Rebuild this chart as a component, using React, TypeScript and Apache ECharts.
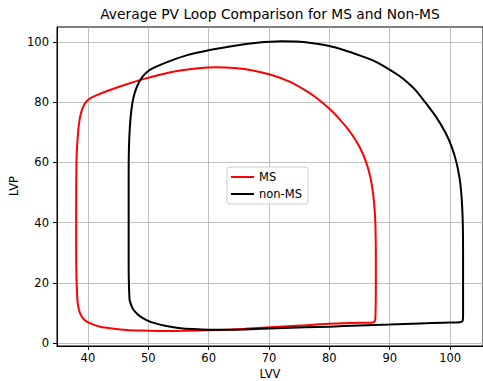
import React, { useEffect, useRef } from "react";
import * as echarts from "echarts";

const title = "Average PV Loop Comparison for MS and Non-MS";
const xTicks = [40, 50, 60, 70, 80, 90, 100];
const yTicks = [0, 20, 40, 60, 80, 100];
const seriesNames = ["MS", "non-MS"];

// MS loop: [LVV, LVP]
const msLoop: number[][] = [
  [38.4, 12.1], [38.7, 9.9], [39.2, 8.3], [39.8, 7.2], [41.0, 6.1], [42.0, 5.5],
  [44.0, 4.9], [46.4, 4.4], [49.1, 4.2], [52.0, 4.1], [56.0, 4.15], [60.2, 4.3],
  [66.0, 4.8], [71.7, 5.5], [76.0, 6.0], [80.0, 6.5], [84.0, 6.75], [87.2, 6.9],
  [87.55, 7.4], [87.65, 10], [87.7, 20], [87.7, 30], [87.66, 36], [87.62, 40],
  [87.47, 45], [87.22, 50], [86.8, 55], [86.1, 60], [85.03, 65], [83.48, 70],
  [81.38, 75], [79.88, 78.0], [78.1, 81.03], [76.3, 83.55], [73.3, 86.85], [70.3, 89.05],
  [67.3, 90.5], [64.3, 91.28], [61.3, 91.58], [58.3, 91.24], [55.3, 90.46], [52.3, 89.26],
  [49.3, 87.7], [46.3, 85.84], [43.3, 83.74], [41.5, 82.3], [40.5, 81.4], [39.8, 80.3],
  [39.25, 78.6], [38.8, 76.0], [38.5, 72.5], [38.3, 68], [38.15, 63], [38.08, 56],
  [38.05, 45], [38.05, 30], [38.1, 22], [38.2, 17], [38.25, 14.5], [38.4, 12.1]
];

// non-MS loop: [LVV, LVP]
const nonMsLoop: number[][] = [
  [46.9, 14.3], [47.3, 12.0], [47.8, 10.5], [48.6, 9.0], [49.7, 7.7], [51.2, 6.6],
  [53.0, 5.7], [55.0, 5.1], [57.4, 4.7], [60.0, 4.5], [62.9, 4.5], [66.0, 4.6],
  [71.2, 5.0], [76.0, 5.3], [80.0, 5.5], [85.0, 5.9], [89.9, 6.2], [95.0, 6.6],
  [99.0, 6.85], [101.6, 6.95], [102.05, 7.4], [102.15, 9], [102.15, 20], [102.15, 30],
  [102.12, 38], [102.05, 43], [101.95, 47], [101.8, 51], [101.55, 55], [101.05, 60],
  [100.3, 65], [99.2, 70], [97.7, 75], [95.85, 80], [94.3, 83.9], [93.0, 86.4],
  [91.5, 88.8], [88.8, 92.2], [87.0, 94.0], [85.0, 95.5], [82.5, 97.2], [80.0, 98.6],
  [77.0, 99.6], [74.5, 100.1], [72.0, 100.2], [68.0, 99.7], [64.6, 98.8], [60.2, 97.3],
  [56.3, 95.5], [53.55, 93.6], [51.5, 91.9], [50.0, 90.3], [48.9, 88.0], [48.1, 85.0],
  [47.55, 81.5], [47.2, 77.3], [46.95, 71.7], [46.8, 65], [46.75, 55], [46.75, 40],
  [46.75, 25], [46.8, 19], [46.9, 14.3]
];

const FONT = "DejaVu Sans";

export default function App() {
  const ref = useRef<HTMLDivElement>(null);
  useEffect(() => {
    if (!ref.current) return;
    const chart = echarts.init(ref.current, null, { renderer: "svg" });
    chart.setOption({
      animation: false,
      backgroundColor: "#ffffff",
      textStyle: { fontFamily: FONT },
      grid: {
        left: 57, top: 27, width: 427, height: 319,
        show: true, borderColor: "#000", borderWidth: 1, backgroundColor: "transparent",
      },
      legend: {
        data: seriesNames,
        orient: "vertical",
        left: 227, top: 167,
        padding: [4, 6, 4, 3],
        itemWidth: 23, itemHeight: 14, itemGap: 5, itemTextGap: 9,
        itemStyle: { opacity: 0 },
        lineStyle: { width: 2 },
        backgroundColor: "rgba(255,255,255,0.8)",
        borderColor: "#cccccc", borderWidth: 1, borderRadius: 3,
        textStyle: { fontFamily: FONT, fontSize: 11.5, color: "#000" },
      },
      xAxis: {
        type: "value", min: 34.88, max: 105.45,
        axisLine: { show: true, onZero: false, lineStyle: { color: "#000", width: 1 } },
        axisTick: { show: true, inside: false, length: 4, customValues: xTicks, lineStyle: { color: "#000", width: 1 } },
        axisLabel: { customValues: xTicks, margin: 6, fontFamily: FONT, fontSize: 11.5, color: "#000" },
        splitLine: { show: true, lineStyle: { color: "#b0b0b0", width: 0.8 } },
      },
      yAxis: {
        type: "value", min: -0.9, max: 104.9,
        axisLine: { show: true, onZero: false, lineStyle: { color: "#000", width: 1 } },
        axisTick: { show: true, inside: false, length: 4, customValues: yTicks, lineStyle: { color: "#000", width: 1 } },
        axisLabel: { customValues: yTicks, margin: 8, fontFamily: FONT, fontSize: 11.5, color: "#000" },
        splitLine: { show: true, lineStyle: { color: "#b0b0b0", width: 0.8 } },
      },
      graphic: [
        { type: "text", x: 270, y: 14, style: { text: title, fontFamily: FONT, fontSize: 13.8, fill: "#000", textAlign: "center", textVerticalAlign: "middle" } },
        { type: "text", x: 270, y: 374, style: { text: "LVV", fontFamily: FONT, fontSize: 11.5, fill: "#000", textAlign: "center", textVerticalAlign: "middle" } },
        { type: "text", x: 14, y: 186, rotation: Math.PI / 2, style: { text: "LVP", fontFamily: FONT, fontSize: 11.5, fill: "#000", textAlign: "center", textVerticalAlign: "middle" } },
      ],
      series: [
        { name: seriesNames[0], type: "line", data: msLoop, showSymbol: false, symbol: "none", smooth: 0.25, lineStyle: { color: "#ff0000", width: 2 }, itemStyle: { color: "#ff0000" }, z: 3 },
        { name: seriesNames[1], type: "line", data: nonMsLoop, showSymbol: false, symbol: "none", smooth: 0.25, lineStyle: { color: "#000000", width: 2 }, itemStyle: { color: "#000000" }, z: 4 },
      ],
    });
    return () => chart.dispose();
  }, []);
  return <div ref={ref} style={{ position: "fixed", left: 0, top: 0, width: 483, height: 381 }} />;
}
